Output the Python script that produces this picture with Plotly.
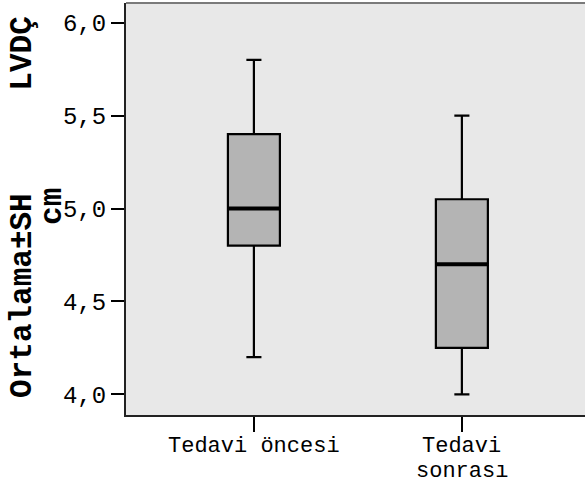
import plotly.graph_objects as go

# ---- data ----
categories = ["Tedavi öncesi", "Tedavi<br>sonrası"]
lower_whisker = [4.2, 4.0]
q1_values = [4.8, 4.25]
median_values = [5.0, 4.7]
q3_values = [5.4, 5.05]
upper_whisker = [5.8, 5.5]
y_ticks = [4.0, 4.5, 5.0, 5.5, 6.0]

FONT = "Courier New, Nimbus Mono PS, FreeMono, Liberation Mono, monospace"
BOX_W = 0.25
xpos = list(range(len(categories)))

fig = go.Figure()
fig.add_trace(go.Box(
    x=xpos, q1=q1_values, median=median_values, q3=q3_values,
    lowerfence=lower_whisker, upperfence=upper_whisker,
    width=BOX_W, whiskerwidth=0.29,
    fillcolor="#B4B4B4", line=dict(color="#000000", width=2.2),
    boxpoints=False, showlegend=False, hoverinfo="skip",
))
# thicker median lines
for i, m in enumerate(median_values):
    fig.add_trace(go.Scatter(
        x=[xpos[i] - BOX_W / 2, xpos[i] + BOX_W / 2], y=[m, m],
        mode="lines", line=dict(color="#000000", width=4),
        showlegend=False, hoverinfo="skip",
    ))

annotations = []
# x category labels, one annotation per line
for i, lab in enumerate(categories):
    for j, part in enumerate(lab.split("<br>")):
        annotations.append(dict(
            x=xpos[i], xref="x", y=0, yref="paper",
            text=part, showarrow=False, xanchor="center", yanchor="middle",
            yshift=-31 - 25 * j,
            font=dict(family=FONT, size=22, color="#000000"),
        ))
# y axis title
annotations += [
    dict(x=0, xref="paper", y=0.289, yref="paper", text="<b>Ortalama±SH</b>",
         textangle=-90, showarrow=False, xanchor="center", yanchor="middle",
         xshift=-103, font=dict(family=FONT, size=31, color="#000000")),
    dict(x=0, xref="paper", y=0.877, yref="paper", text="<b>LVDÇ</b>",
         textangle=-90, showarrow=False, xanchor="center", yanchor="middle",
         xshift=-103, font=dict(family=FONT, size=31, color="#000000")),
    dict(x=0, xref="paper", y=0.505, yref="paper", text="<b>cm</b>",
         textangle=-90, showarrow=False, xanchor="center", yanchor="middle",
         xshift=-73, font=dict(family=FONT, size=31, color="#000000")),
]

fig.update_layout(
    width=585, height=485,
    margin=dict(l=126, r=0, t=3, b=70),
    paper_bgcolor="#FFFFFF", plot_bgcolor="#E8E8E8",
    separators=",.",
    annotations=annotations,
    shapes=[dict(type="line", xref="paper", yref="paper", x0=0, x1=1, y0=1, y1=1,
                 line=dict(color="#7A7A7A", width=2))],
    font=dict(family=FONT, size=24, color="#000000"),
)
fig.update_xaxes(
    range=[-0.615, 1.592], tickvals=xpos, ticktext=["" for _ in categories],
    ticks="outside", ticklen=15, tickwidth=2, tickcolor="#000000",
    showline=True, linewidth=2, linecolor="#222222",
    showgrid=False, zeroline=False,
)
fig.update_yaxes(
    range=[3.889, 6.106], tickvals=y_ticks, tickformat=".1f",
    ticks="outside", ticklen=13, tickwidth=2, tickcolor="#000000",
    showline=True, linewidth=2, linecolor="#222222",
    showgrid=False, zeroline=False,
    tickfont=dict(family=FONT, size=24, color="#000000"),
)

fig.write_html("out.html")
